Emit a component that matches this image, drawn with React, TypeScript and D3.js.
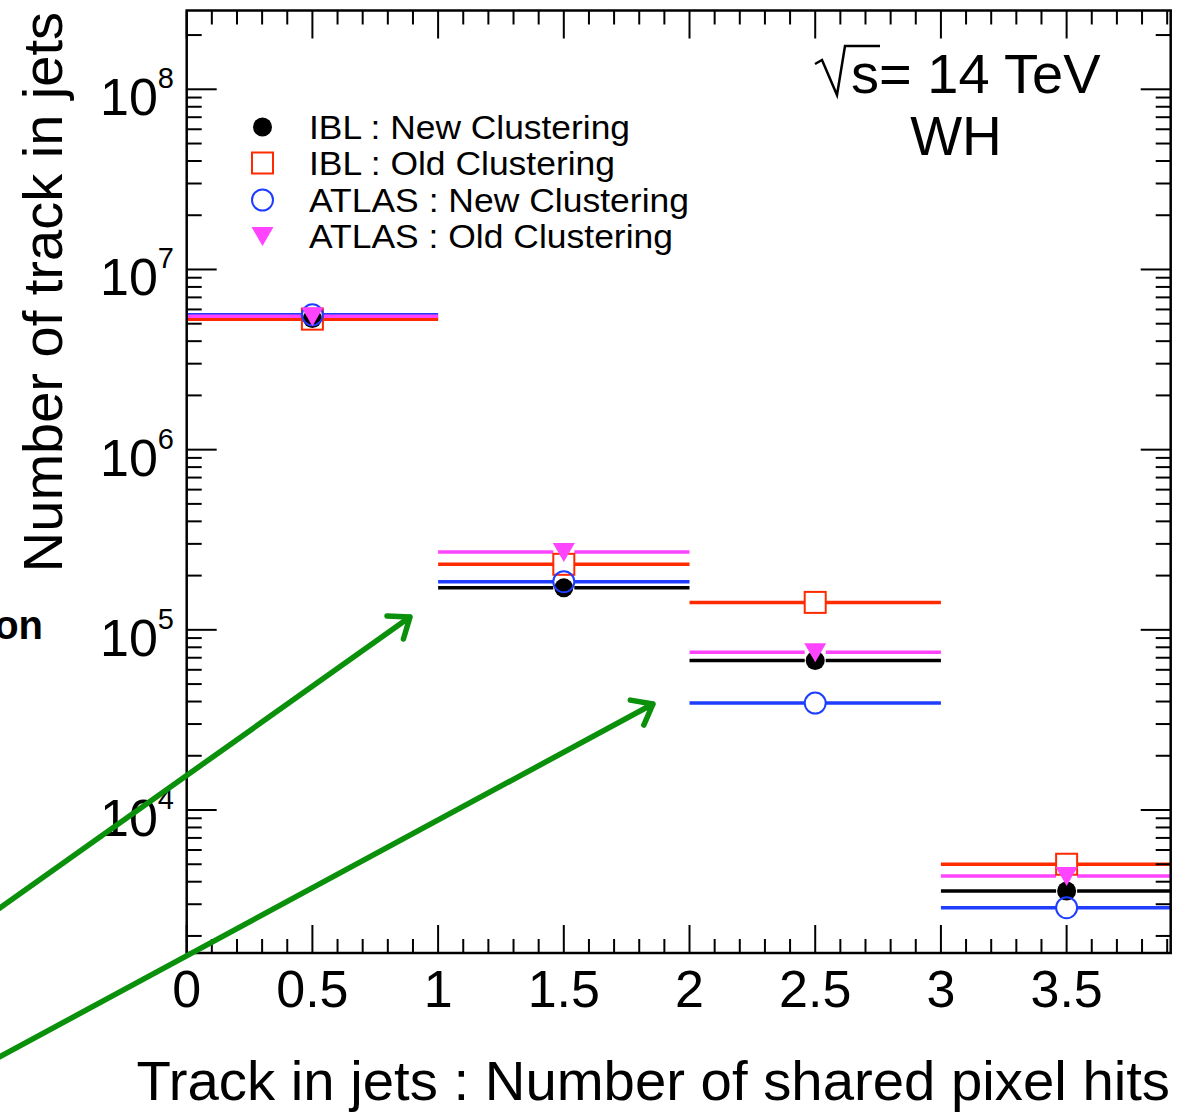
import React from "react";
import * as d3 from "d3";

// ---- data ----
const binEdges = [0, 1, 2, 3, 4];
const binCenters = [0.5, 1.5, 2.5, 3.5];
const iblNew = [5.35e6, 1.71e5, 6.75e4, 3.55e3];
const iblOld = [5.3e6, 2.31e5, 1.42e5, 5.0e3];
const atlasNew = [5.6e6, 1.85e5, 3.92e4, 2.87e3];
const atlasOld = [5.5e6, 2.7e5, 7.5e4, 4.3e3];

const seriesNames = [
  "IBL : New Clustering",
  "IBL : Old Clustering",
  "ATLAS : New Clustering",
  "ATLAS : Old Clustering",
];
const seriesColors = ["#000000", "#ff2a00", "#1f3dff", "#ff44ff"];
const seriesMarkers = ["fullCircle", "openSquare", "openCircle", "fullTriangleDown"];
const seriesValues = [iblNew, iblOld, atlasNew, atlasOld];

const xTickLabels = ["0", "0.5", "1", "1.5", "2", "2.5", "3", "3.5"];
const yDecades = [4, 5, 6, 7, 8];

const xTitle = "Track in jets : Number of shared pixel hits";
const yTitle = "Number of track in jets";

// annotation arrows (pixel space, outside the data)
const arrowTails = [[-10, 915], [-10, 1062]];
const arrowTips = [[410, 617], [653, 704]];

const W = 1182;
const H = 1114;
const L = 186.7, R = 1170.7, T = 10.5, B = 953;

const x = d3.scaleLinear().domain([0, 3.914]).range([L, R]);
const y = d3.scaleLog().domain([Math.pow(10, 3.2064), Math.pow(10, 8.4373)]).range([B, T]);

const FONT = "'Liberation Sans', Arial, Helvetica, sans-serif";

function Marker({ type, cx, cy, color }: { type: string; cx: number; cy: number; color: string }) {
  if (type === "fullCircle") return <circle cx={cx} cy={cy} r={9.5} fill={color} />;
  if (type === "openSquare")
    return <rect x={cx - 10.5} y={cy - 10.5} width={21} height={21} fill="none" stroke={color} strokeWidth={2} />;
  if (type === "openCircle") return <circle cx={cx} cy={cy} r={10.5} fill="none" stroke={color} strokeWidth={2} />;
  const p = d3.path();
  p.moveTo(cx - 11, cy - 9);
  p.lineTo(cx + 11, cy - 9);
  p.lineTo(cx, cy + 10);
  p.closePath();
  return <path d={p.toString()} fill={color} />;
}

function arrowPath(tail: number[], tip: number[]) {
  const ang = Math.atan2(tip[1] - tail[1], tip[0] - tail[0]);
  const len = 23;
  const spread = (38 * Math.PI) / 180;
  const p = d3.path();
  p.moveTo(tail[0], tail[1]);
  p.lineTo(tip[0], tip[1]);
  p.moveTo(tip[0] - len * Math.cos(ang - spread), tip[1] - len * Math.sin(ang - spread));
  p.lineTo(tip[0], tip[1]);
  p.lineTo(tip[0] - len * Math.cos(ang + spread), tip[1] - len * Math.sin(ang + spread));
  return p.toString();
}

export default function App() {
  const xTicks = d3.range(0, 40).map((i) => i / 10).filter((v) => v <= 3.914);
  const yMinor: number[] = [];
  for (let d = 3; d <= 8; d++) {
    for (let m = 2; m <= 9; m++) {
      const v = m * Math.pow(10, d);
      if (v >= y.domain()[0] && v <= y.domain()[1]) yMinor.push(v);
    }
  }
  const legendRows = [127, 163, 200, 236];
  const legendWidths = [321, 306, 380, 364];
  const halfGap = 10.5;

  return (
    <svg width={W} height={H} style={{ position: "absolute", left: 0, top: 0, background: "#fff" }} fontFamily={FONT}>
      <rect x={0} y={0} width={W} height={H} fill="#fff" />
      <defs>
        <clipPath id="plotclip">
          <rect x={L} y={T} width={R - L} height={B - T} />
        </clipPath>
      </defs>

      {/* data */}
      <g clipPath="url(#plotclip)">
        {seriesValues.map((vals, s) => (
          <g key={s}>
            {vals.map((v, i) => {
              const cx = x(binCenters[i]);
              const cy = y(v);
              return (
                <g key={i}>
                  <line x1={x(binEdges[i])} x2={cx - halfGap} y1={cy} y2={cy} stroke={seriesColors[s]} strokeWidth={3.5} />
                  <line x1={cx + halfGap} x2={x(binEdges[i + 1])} y1={cy} y2={cy} stroke={seriesColors[s]} strokeWidth={3.5} />
                </g>
              );
            })}
          </g>
        ))}
        {seriesValues.map((vals, s) => (
          <g key={"m" + s}>
            {vals.map((v, i) => (
              <Marker key={i} type={seriesMarkers[s]} cx={x(binCenters[i])} cy={y(v)} color={seriesColors[s]} />
            ))}
          </g>
        ))}
      </g>

      {/* frame */}
      <rect x={L} y={T} width={R - L} height={B - T} fill="none" stroke="#000" strokeWidth={2.5} />

      {/* x ticks bottom & top */}
      {xTicks.map((v, i) => {
        const major = Math.abs(v * 2 - Math.round(v * 2)) < 1e-6;
        const len = major ? 28 : 14;
        return (
          <g key={i} stroke="#000" strokeWidth={2}>
            <line x1={x(v)} x2={x(v)} y1={B} y2={B - len} />
            <line x1={x(v)} x2={x(v)} y1={T} y2={T + len} />
          </g>
        );
      })}
      {/* y ticks left & right */}
      {yDecades.map((d) => {
        const yy = y(Math.pow(10, d));
        return (
          <g key={"d" + d} stroke="#000" strokeWidth={2}>
            <line x1={L} x2={L + 30} y1={yy} y2={yy} />
            <line x1={R} x2={R - 30} y1={yy} y2={yy} />
          </g>
        );
      })}
      {yMinor.map((v, i) => {
        const yy = y(v);
        return (
          <g key={"m" + i} stroke="#000" strokeWidth={2}>
            <line x1={L} x2={L + 15} y1={yy} y2={yy} />
            <line x1={R} x2={R - 15} y1={yy} y2={yy} />
          </g>
        );
      })}

      {/* x tick labels */}
      {xTickLabels.map((t) => (
        <text key={t} x={x(+t)} y={1007} fontSize={52} textAnchor="middle" fill="#000">
          {t}
        </text>
      ))}
      {/* y tick labels */}
      {yDecades.map((d) => {
        const yy = y(Math.pow(10, d));
        return (
          <text key={d} x={174} y={yy + 26} fontSize={52} textAnchor="end" fill="#000">
            10
            <tspan fontSize={29} dy={-27}>
              {d}
            </tspan>
          </text>
        );
      })}

      {/* titles */}
      <text x={1170} y={1100} fontSize={56.3} textAnchor="end" fill="#000">
        {xTitle}
      </text>
      <text transform="translate(62,12) rotate(-90)" fontSize={56} textAnchor="end" fill="#000">
        {yTitle}
      </text>

      {/* legend */}
      {seriesNames.map((n, s) => (
        <g key={n}>
          <Marker type={seriesMarkers[s]} cx={262.5} cy={legendRows[s]} color={seriesColors[s]} />
          <text x={309} y={legendRows[s] + 11.5} fontSize={32.5} fill="#000" textLength={legendWidths[s]} lengthAdjust="spacingAndGlyphs">
            {n}
          </text>
        </g>
      ))}

      {/* energy label */}
      <path d="M815,64 L822,60 L837,95 L845,46 L880,46" fill="none" stroke="#000" strokeWidth={2.5} />
      <text x={851} y={93} fontSize={56} fill="#000">
        s= 14 TeV
      </text>
      <text x={956} y={155} fontSize={55} textAnchor="middle" fill="#000">
        WH
      </text>

      {/* cut-off slide text */}
      <text x={43} y={639} fontSize={40} fontWeight="bold" textAnchor="end" fill="#000">
        on
      </text>

      {/* annotation arrows */}
      {arrowTails.map((t, i) => (
        <path key={i} d={arrowPath(t, arrowTips[i])} fill="none" stroke="#0a900a" strokeWidth={5.5} strokeLinecap="round" strokeLinejoin="round" />
      ))}
    </svg>
  );
}
